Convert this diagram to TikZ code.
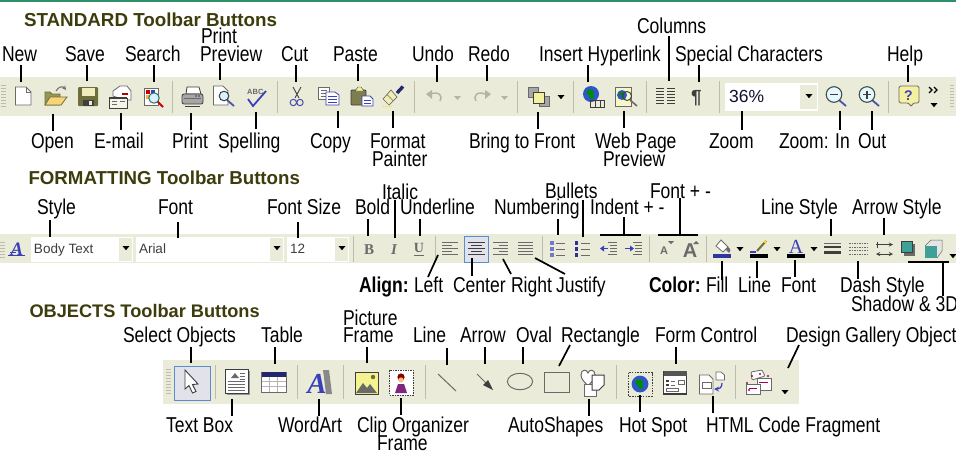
\documentclass[tikz,border=0pt]{standalone}
\usepackage{fontspec}
\setmainfont{Liberation Sans}
\newfontfamily\lblfont[FakeStretch=0.815]{Liberation Sans}
\newfontfamily\srf{Liberation Serif}
\definecolor{barc}{HTML}{EBEBDA}
\definecolor{topg}{HTML}{2E8F68}
\definecolor{ttlc}{HTML}{3C3C0C}
\definecolor{sepc}{HTML}{BDBDAE}
\definecolor{igray}{HTML}{6A6A6A}
\definecolor{idark}{HTML}{3E3E3E}
\definecolor{yel}{HTML}{F4F0A0}
\definecolor{ol}{HTML}{6E6E3C}
\definecolor{blu}{HTML}{3A40B8}
\definecolor{selb}{HTML}{5A8CD0}
\definecolor{self}{HTML}{E2E2EA}
\definecolor{tealc}{HTML}{3FA098}
\definecolor{dis}{HTML}{B4B4A8}
\definecolor{globe}{HTML}{2E58C8}
\tikzset{
  lbl/.style={anchor=base west,inner sep=0pt,outer sep=0pt,text=black,font=\lblfont\fontsize{21.5}{21.5}\selectfont},
  boldlbl/.style={lbl,font=\lblfont\bfseries\fontsize{21.5}{21.5}\selectfont},
  ttl/.style={anchor=base west,inner sep=0pt,outer sep=0pt,text=ttlc},
  combotxt/.style={anchor=base west,inner sep=0pt,outer sep=0pt,text=idark,font=\fontsize{13.5}{13.5}\selectfont},
  leader/.style={draw=black,line width=1.7pt},
  sepl/.style={draw=sepc,line width=1pt},
  ic/.style={draw=igray,line width=.8pt},
  icd/.style={draw=idark,line width=.8pt},
}
\newcommand\ldr[5]{\coordinate (#1a) at (#2,#3);\coordinate (#1b) at (#4,#5);\draw[leader] (#1a) -- (#1b);}
\newcommand\lbn[4]{\node[lbl] (#1) at (#2,#3) {#4};}
\newcommand\sepr[3]{\draw[sepl] (#1,#2) -- (#1,#3);}
\newcommand\drp[2]{\fill[black] ({#1-3.5},{#2-2}) -- ({#1+3.5},{#2-2}) -- (#1,{#2+2.2}) -- cycle;}
\newcommand\grp[3]{\foreach \gi in {0,...,#3}{\draw[draw=sepc,line width=1pt] (#1,{#2+3*\gi}) -- ({#1+4.5},{#2+3*\gi});}}
\newcommand\glb[3]{\fill[globe] (#1,#2) circle (#3);\fill[green!55!black] ({#1-.4*#3},{#2-.5*#3}) .. controls ({#1+.3*#3},{#2-.8*#3}) and ({#1+.6*#3},{#2-.1*#3}) .. ({#1+.1*#3},{#2+.1*#3}) .. controls ({#1-.2*#3},{#2+.2*#3}) and ({#1-.9*#3},{#2+.1*#3}) .. cycle;\fill[green!55!black] ({#1+.1*#3},{#2+.3*#3}) circle ({.3*#3});}
\begin{document}
\begin{tikzpicture}[x=1pt,y=-1pt]
\useasboundingbox (0,0) rectangle (956,451);
\fill[white] (0,0) rectangle (956,451);
\fill[topg] (0,0) rectangle (956,2);
% toolbars
\fill[barc] (0,77) rectangle (956,116);
\fill[barc] (0,234) rectangle (956,263);
\fill[barc] (163,360) rectangle (799,404);
% titles
\node[ttl,font=\bfseries\fontsize{18.8}{18.8}\selectfont] (tstd) at (24,26) {STANDARD Toolbar Buttons};
\node[ttl,font=\bfseries\fontsize{18.7}{18.7}\selectfont] (tfmt) at (28.5,184) {FORMATTING Toolbar Buttons};
\node[ttl,font=\bfseries\fontsize{18.2}{18.2}\selectfont] (tobj) at (29.5,317) {OBJECTS Toolbar Buttons};
% ---- standard labels
\lbn{lnew}{2}{61}{New}\lbn{lsave}{65}{61}{Save}\lbn{lsearch}{125}{61}{Search}
\lbn{lprinta}{201}{43}{Print}\lbn{lprev}{200}{61}{Preview}\lbn{lcut}{281}{61}{Cut}
\lbn{lpaste}{333}{61}{Paste}\lbn{lundo}{412}{61}{Undo}\lbn{lredo}{468}{61}{Redo}
\lbn{lhyper}{539}{61}{Insert Hyperlink}\lbn{lcols}{637}{33}{Columns}
\lbn{lspec}{675}{61}{Special Characters}\lbn{lhelp}{887}{61}{Help}
\lbn{lopen}{31}{148}{Open}\lbn{lemail}{94}{148}{E-mail}\lbn{lprint}{172}{148}{Print}
\lbn{lspell}{218}{148}{Spelling}\lbn{lcopy}{310}{148}{Copy}\lbn{lformat}{370}{148}{Format}
\lbn{lpaint}{372}{166}{Painter}\lbn{lbring}{469}{148}{Bring to Front}
\lbn{lweb}{595}{148}{Web Page}\lbn{lwebp}{603}{166}{Preview}\lbn{lzoom}{709}{148}{Zoom}
\lbn{lzin}{779}{148}{Zoom: In}\lbn{lzout}{858}{148}{Out}
% ---- standard leaders
\ldr{c1}{21.3}{65}{21.3}{82}\ldr{c2}{87}{65}{87}{81}\ldr{c3}{153.7}{65}{153.7}{82}
\ldr{c4}{220}{63}{220}{80}\ldr{c5}{296}{65}{296}{82}\ldr{c6}{357.7}{64}{357.7}{81}
\ldr{c7}{437}{65}{437}{82}\ldr{c8}{487}{65}{487}{81}\ldr{c9}{588}{65}{588}{82}
\ldr{c10}{669}{36}{669}{81}\ldr{c11}{698.7}{65}{698.7}{82}\ldr{c12}{908}{65}{908}{82}
\ldr{c13}{53}{114}{53}{131}\ldr{c14}{121}{113}{121}{130}\ldr{c15}{191}{113}{191}{130}
\ldr{c16}{255.7}{112}{255.7}{129}\ldr{c17}{337.7}{111}{337.7}{128}\ldr{c18}{393}{111}{393}{128}
\ldr{c19}{537.7}{112}{537.7}{129}\ldr{c20}{624}{111}{624}{128}\ldr{c21}{741.7}{110}{741.7}{130}
\ldr{c22}{840}{111}{840}{130}\ldr{c23}{872}{111}{872}{130}
% ---- standard icons
\grp{1}{85}{7}\grp{949.5}{85}{7}
\sepr{172}{81}{113}\sepr{277}{81}{113}\sepr{414}{81}{113}\sepr{517}{81}{113}
\sepr{573}{81}{113}\sepr{646}{81}{113}\sepr{719}{81}{113}\sepr{888}{81}{113}
% new
\draw[ic,fill=white] (15.5,87) -- (26,87) -- (31,92) -- (31,105) -- (15.5,105) -- cycle;
\draw[ic] (26,87) -- (26,92) -- (31,92);
% open
\draw[draw=ol,fill=ol!70!yel,line width=.8pt] (45,105) -- (45,92) -- (50,92) -- (52,94) -- (60,94) -- (60,105) -- cycle;
\draw[draw=ol,fill=yel!75!orange,line width=.8pt] (45,105) -- (50,97) -- (67,97) -- (61,105) -- cycle;
\draw[igray,line width=1pt,->,>=stealth] (56,91) .. controls (59,86) and (63,86) .. (66,90);
% save
\fill[ol,rounded corners=1pt] (78,87) rectangle (98,106);
\fill[yel!50!barc] (81.5,88) rectangle (94.5,96);
\fill[idark] (83,100) rectangle (94,106);\fill[barc] (89,101) rectangle (92,105);
% email
\draw[ic,fill=white] (113,96) -- (113,91) -- (120,86) -- (127,86) -- (131,91) -- (131,100) -- (125,100) -- cycle;
\draw[red!70!black,line width=1.2pt] (122,94) -- (128,94);
\draw[icd,fill=barc!60!white] (109,98) rectangle (127,108);
\fill[idark] (109,96.5) rectangle (127,98);
\draw[igray] (112,101) -- (117,101) (112,104) -- (117,104) (120,101) -- (125,101);
% search
\draw[ic,fill=white] (144,88) rectangle (158,105);
\fill[red!80!black] (146,90) rectangle (150,94);\fill[blu] (151,90) rectangle (155,94);\fill[yel!40!orange] (146,95) rectangle (150,99);
\draw[red!80!black,line width=1.8pt] (157,101) -- (163,107);
\draw[fill=cyan!15!white,draw=tealc!70!black,line width=1pt] (154,98) circle (5.2);
% print
\draw[icd,fill=white] (187,87) -- (199,87) -- (201,94) -- (186,94) -- cycle;
\draw[icd,fill=igray!60!white,rounded corners=2pt] (182,94) rectangle (203,104);
\draw[igray,line width=1pt] (184,98) -- (201,98);\draw[idark,line width=1.4pt] (185,106.5) -- (200,106.5);
\foreach \cx in {196,199}{\fill[idark] (\cx,96) circle (.8);}
% print preview
\draw[ic,fill=white] (213.5,86) -- (223,86) -- (228,91) -- (228,105) -- (213.5,105) -- cycle;
\draw[blu!70!gray,line width=1.8pt] (227,100) -- (234,106);
\draw[fill=cyan!15!white,draw=idark,line width=1pt] (224,96) circle (4.8);
% spelling
\node[anchor=base west,inner sep=0pt,text=igray,font=\bfseries\fontsize{7.5}{7.5}\selectfont] (abc) at (247,94) {ABC};
\draw[blu,line width=1.8pt] (248,99) -- (253,106) -- (266,91);
% cut
\draw[idark,line width=.9pt] (293,87) -- (299,98) (301,87) -- (295,98);
\draw[blu!75!gray,line width=1pt] (293.3,102.5) circle (3.2) (300,102.5) circle (3.2);
% copy
\draw[ic,fill=white] (318.5,87) rectangle (329,99);
\foreach \y in {90,93,96}{\draw[igray] (320.5,\y) -- (327,\y);}
\draw[draw=blu,fill=white,line width=.8pt] (326,92) -- (335,92) -- (339,95) -- (339,105) -- (326,105) -- cycle;
\foreach \y in {96,99,102}{\draw[blu] (328,\y) -- (337,\y);}
% paste
\draw[draw=idark,fill=ol!90!white,rounded corners=1pt,line width=.8pt] (351,90) rectangle (366,105);
\draw[idark,fill=yel] (355,91) -- (358,87) -- (361,87) -- (364,91) -- cycle;
\draw[draw=blu,fill=white,line width=.8pt] (362,96) -- (370,96) -- (373,99) -- (373,106) -- (362,106) -- cycle;
\draw[blu] (364,100) -- (371,100) (364,103) -- (371,103);
% painter
\draw[blu!60!black,line width=3.4pt] (397,93) -- (403,86.5);
\fill[yel!70!barc,draw=igray,line width=.7pt] (383,99) -- (391,90) -- (397,97) -- (389,105) -- cycle;
\draw[igray,line width=.7pt] (387,94.5) -- (393,100.5);
\draw[densely dotted,yellow!80!orange,line width=1pt] (383,106) -- (392,106);
% undo, redo
\draw[dis,line width=1.5pt] (429,94.5) .. controls (440,90) and (443,97) .. (440,101);
\fill[dis] (426,94) -- (432,90) -- (432,99) -- cycle;
\fill[dis] (454,96) -- (461,96) -- (457.5,100) -- cycle;
\draw[dis,line width=1.5pt] (487,94.5) .. controls (476,90) and (473,97) .. (476,101);
\fill[dis] (491,94) -- (485,90) -- (485,99) -- cycle;
\fill[dis] (501,96) -- (508,96) -- (504.5,100) -- cycle;
% bring to front
\draw[ic,fill=igray!60!white] (528,87) rectangle (538,97);
\draw[ic,fill=igray!60!white] (539,96) rectangle (549,106);
\draw[draw=idark,fill=yel,line width=.8pt] (533,92) rectangle (544,103);
\drp{561}{97}
% hyperlink
\glb{591}{94}{8}
\draw[idark,line width=1pt] (590,100) rectangle (595,107) (595,100) rectangle (600,107) (600,100) rectangle (604,107);
% web preview
\draw[ic,fill=yel!60!white] (615,87) rectangle (631,106);
\glb{622}{95}{5}
\draw[igray,line width=1.6pt] (630,100) -- (637,106);
\draw[draw=idark,line width=.9pt] (627,96) circle (4.5);
% columns
\foreach \y in {88.5,91.5,94.5,97.5,100.5,103.5}{\draw[idark,line width=1pt] (656,\y) -- (663.5,\y) (667,\y) -- (675,\y);}
% pilcrow
\node[anchor=base,inner sep=0pt,text=idark,font=\bfseries\fontsize{19}{19}\selectfont] (pil) at (696.5,103.5) {¶};
% zoom combo
\fill[white] (725,83) rectangle (818,111);
\fill[barc] (800,85) rectangle (817,109);
\drp{809}{96}
\node[anchor=base west,inner sep=0pt,text=blu!25!black,font=\fontsize{17.5}{17.5}\selectfont] (pct) at (729,102) {36\%};
% zoom out / in
\draw[blu!70!gray,line width=1.8pt] (839,100) -- (846,106);
\draw[draw=idark!80!tealc,fill=cyan!10!white,line width=1.1pt] (834,94.5) circle (7.8);
\draw[idark,line width=1.6pt] (830,94.5) -- (838,94.5);
\draw[blu!70!gray,line width=1.8pt] (872,100) -- (879,106);
\draw[draw=idark!80!tealc,fill=cyan!10!white,line width=1.1pt] (867,94.5) circle (7.8);
\draw[idark,line width=1.6pt] (863,94.5) -- (871,94.5) (867,90.5) -- (867,98.5);
% help
\draw[igray,fill=yel,line width=.9pt,rounded corners=1.5pt] (899,86) -- (919,86) -- (919,103) -- (913,103) -- (911,107) -- (909,103) -- (899,103) -- cycle;
\node[anchor=base,inner sep=0pt,text=blu,font=\bfseries\fontsize{14}{14}\selectfont] (hq) at (908.5,100) {?};
% chevrons
\draw[black,line width=1.2pt] (929,87) -- (932,90) -- (929,93) (934,87) -- (937,90) -- (934,93);
\drp{934}{105}
% ---- formatting labels
\lbn{lstyle}{37}{214}{Style}\lbn{lfont}{158}{214}{Font}\lbn{lfsize}{267}{214}{Font Size}
\lbn{lbold}{355}{214}{Bold}\lbn{lital}{382}{199}{Italic}\lbn{lund}{400}{214}{Underline}
\lbn{lnum}{494}{214}{Numbering}\lbn{lbul}{545}{198}{Bullets}\lbn{lind}{590}{214}{Indent + -}
\lbn{lfpm}{650}{198}{Font + -}\lbn{llst}{761}{214}{Line Style}\lbn{last}{852}{214}{Arrow Style}
\node[boldlbl] (lalign) at (359,292) {Align:};
\lbn{lleft}{414}{292}{Left}\lbn{lcent}{453}{292}{Center}\lbn{lright}{511}{292}{Right}\lbn{ljust}{556}{292}{Justify}
\node[boldlbl] (lcolor) at (649,292) {Color:};
\lbn{lfill}{706}{292}{Fill}\lbn{lline}{738}{292}{Line}\lbn{lfcol}{781}{292}{Font}
\lbn{ldash}{840}{292}{Dash Style}\lbn{lshad}{851}{311}{Shadow \& 3D}
% ---- formatting icons
\grp{0}{242}{5}
% style A
\node[anchor=base,inner sep=0pt,text=blu,font=\srf\bfseries\itshape\fontsize{19}{19}\selectfont] (sa) at (17,255) {A};
\draw[blu,line width=1pt] (8,255) -- (25,255);\draw[blu,line width=1pt] (10,252) -- (16,252);
% combos
\fill[white] (31,237) rectangle (133,262);\fill[barc] (119,238) rectangle (132,261);\drp{126}{248}
\fill[white] (136,237) rectangle (284,262);\fill[barc] (270,238) rectangle (283,261);\drp{277}{248}
\fill[white] (287,237) rectangle (349,262);\fill[barc] (335,238) rectangle (348,261);\drp{342}{248}
\node[combotxt] (cb1) at (34,253) {Body Text};
\node[combotxt] (cb2) at (139,253) {Arial};
\node[combotxt] (cb3) at (290,253) {12};
\sepr{353}{236}{262}\sepr{435}{236}{262}\sepr{542}{236}{262}\sepr{649}{236}{262}\sepr{706}{236}{262}
% B I U
\node[anchor=base,inner sep=0pt,text=igray,font=\srf\bfseries\fontsize{15}{15}\selectfont] (fb) at (369,254) {B};
\node[anchor=base,inner sep=0pt,text=igray,font=\srf\bfseries\itshape\fontsize{15}{15}\selectfont] (fi) at (394,254) {I};
\node[anchor=base,inner sep=0pt,text=igray,font=\srf\bfseries\fontsize{14}{14}\selectfont] (fu) at (419,252) {U};
\draw[igray,line width=1.1pt] (414,255.5) -- (424,255.5);
% align
\foreach \y/\xb in {242.5/458,245.5/452,248.5/458,251.5/452,254.5/458}{\draw[igray,line width=1pt] (442,\y) -- (\xb,\y);}
\draw[draw=selb,fill=self,line width=1pt] (464.5,236.5) rectangle (488.5,262);
\foreach \y/\xa/\xb in {242.5/468/485,245.5/471/482,248.5/468/485,251.5/471/482,254.5/468/485}{\draw[idark,line width=1pt] (\xa,\y) -- (\xb,\y);}
\foreach \y/\xa in {242.5/493,245.5/499,248.5/493,251.5/499,254.5/493}{\draw[igray,line width=1pt] (\xa,\y) -- (508,\y);}
\foreach \y in {242.5,245.5,248.5,251.5,254.5}{\draw[igray,line width=1pt] (518,\y) -- (533,\y);}
% numbering
\foreach \y in {243,249,255}{\fill[blu!70!white] (550,{\y-2}) rectangle (554,{\y+1.5});\draw[igray,line width=1pt] (556,\y) -- (565,\y);}
% bullets
\foreach \y in {243,249,255}{\fill[blu!80!black] (574.5,{\y-2}) rectangle (578,{\y+1.5});\draw[igray,line width=1pt] (581,\y) -- (590,\y);}
% indent
\foreach \xo in {0,25}{\foreach \y/\xa in {242.5/608,245.5/610,248.5/610,251.5/610,254.5/608}{\draw[igray,line width=1pt] ({\xa+\xo},\y) -- ({617+\xo},\y);}}
\draw[blu,line width=1.2pt] (601,248.5) -- (608,248.5);\fill[blu] (600,248.5) -- (604,245.5) -- (604,251.5) -- cycle;
\draw[blu,line width=1.2pt] (625,248.5) -- (632,248.5);\fill[blu] (634,248.5) -- (630,245.5) -- (630,251.5) -- cycle;
% font +-
\node[anchor=base,inner sep=0pt,text=igray,font=\bfseries\fontsize{11}{11}\selectfont] (fsm) at (664,254) {A};
\fill[igray] (668,241) -- (674,241) -- (671,244) -- cycle;
\node[anchor=base,inner sep=0pt,text=igray,font=\bfseries\fontsize{20}{20}\selectfont] (flg) at (690,257) {A};
\fill[igray] (693,244) -- (699,244) -- (696,241) -- cycle;
% fill colour
\draw[igray,fill=white,line width=.8pt] (716,246) -- (721,240) -- (728,247) -- (723,252) -- cycle;
\fill[igray] (728,247) .. controls (731,249) and (731,252) .. (729,253) -- (726,250) -- cycle;
\fill[blu!85!black] (713,254) rectangle (731,258);
\drp{740}{249}
% line colour
\draw[ol,line width=2pt] (757,251) -- (766,241);\fill[yellow!80!orange] (765,242) circle (1.5);
\draw[blu,line width=1.1pt] (750,252) -- (756,252);
\fill[black] (750,254) rectangle (768,258);
\drp{777}{249}
% font colour
\node[anchor=base,inner sep=0pt,text=blu,font=\srf\fontsize{20}{20}\selectfont] (fca) at (796,253.5) {A};
\fill[black] (787,254) rectangle (805,258);
\drp{814}{249}
% line style
\draw[igray,line width=.7pt] (824,243) -- (841,243);
\draw[idark,line width=1.8pt] (824,247) -- (841,247);
\draw[idark,line width=2.6pt] (824,252.5) -- (841,252.5);
% dash style
\foreach \y in {243.5,247,250.5,254}{\draw[igray,line width=.9pt,dash pattern=on 1.5pt off 1pt] (849,\y) -- (867,\y);}
% arrow style
\draw[idark,line width=.9pt,->,>=stealth] (876,244.5) -- (893,244.5);
\draw[idark,line width=.9pt,<->,>=stealth] (876,254) -- (893,254);
\draw[idark,line width=.9pt] (877,241.5) -- (877,247.5);
% shadow and 3d
\fill[igray] (904,244) rectangle (915,255.5);
\draw[fill=tealc,draw=idark,line width=.8pt] (901,241) rectangle (912,252);
\fill[white!80!gray] (925,246) -- (931,240) -- (942,240) -- (942,251) -- (937,258) -- (925,258) -- cycle;
\draw[ic,line width=.5pt] (925,246) -- (931,240) -- (942,240) -- (942,251) -- (937,258);
\fill[tealc] (925,246) rectangle (937,258);
\drp{953}{256}
% ---- formatting leaders
\ldr{d1}{50}{220}{50}{237}\ldr{d2}{178}{222}{178}{238}\ldr{d3}{298}{222}{298}{238}
\ldr{d4}{368}{219}{368}{236}\ldr{d5}{395}{200}{395}{238}\ldr{d6}{420}{219}{420}{236}
\ldr{d7}{438}{255}{428}{277}\ldr{d8}{472}{258}{472}{276}\ldr{d9}{503}{259}{511}{274}
\ldr{d10}{535}{258}{565}{274}\ldr{d11}{558}{219}{558}{235}\ldr{d12}{583}{200}{583}{237}
\ldr{d13}{624}{217}{624}{235}\ldr{d13x}{600}{235}{641}{235}
\ldr{d14}{680}{198}{680}{235}\ldr{d14x}{658}{235}{698}{235}
\ldr{d15}{831}{219}{831}{236}\ldr{d16}{884}{218}{884}{235}
\ldr{d17}{722}{261}{722}{280}\ldr{d18}{757}{261}{757}{278}\ldr{d19}{795}{260}{795}{277}
\ldr{d20}{858}{261}{858}{279}\ldr{d21}{908}{262}{949}{262}\ldr{d21v}{943}{262}{943}{296}
% ---- objects labels
\lbn{lsel}{123}{342}{Select Objects}\lbn{ltab}{261}{342}{Table}\lbn{lpic}{343}{325}{Picture}
\lbn{lfrm}{343}{342}{Frame}\lbn{lln}{413}{342}{Line}\lbn{larr}{460}{342}{Arrow}
\lbn{lov}{516}{342}{Oval}\lbn{lrec}{561}{342}{Rectangle}\lbn{lform}{655}{342}{Form Control}
\lbn{ldes}{786}{342}{Design Gallery Object}
\lbn{ltxt}{166}{432}{Text Box}\lbn{lwa}{278}{432}{WordArt}\lbn{lclip}{357}{432}{Clip Organizer}
\lbn{lclf}{377}{450}{Frame}\lbn{lauto}{508}{432}{AutoShapes}\lbn{lhot}{619}{432}{Hot Spot}
\lbn{lhtml}{706}{432}{HTML Code Fragment}
% ---- objects icons
\grp{166}{369}{8}
\draw[draw=selb,fill=self,line width=1pt] (174.5,366) rectangle (210,400);
\draw[idark,fill=white,line width=.9pt] (185,370) -- (185,389) -- (189,385.5) -- (192.5,393) -- (196,391.5) -- (192.5,384.5) -- (198,384) -- cycle;
\sepr{215}{365}{399}\sepr{297}{365}{399}\sepr{343}{365}{399}\sepr{425}{365}{399}\sepr{616}{365}{399}\sepr{735}{365}{399}
% text box
\fill[igray!70!white] (227,371) rectangle (250,395);
\draw[icd,fill=white] (225,369) rectangle (248,393);
\fill[igray] (231,378) -- (235,373) -- (239,378) -- cycle;
\foreach \y in {381,384,387,390}{\draw[igray] (228,\y) -- (245,\y);}
\foreach \y in {373,376,379}{\draw[igray] (240,\y) -- (245,\y);}
% table
\draw[draw=igray,fill=white,line width=1pt] (261.5,372.5) rectangle (286,392);
\fill[blu!60!black] (261.5,372) rectangle (286,376.5);
\foreach \y in {381,386.5}{\draw[igray!50!white] (261.5,\y) -- (286,\y);}
\foreach \x in {269.5,277.5}{\draw[igray!50!white] (\x,376.5) -- (\x,392);}
% wordart
\fill[igray!80!white] (323,370) -- (329,370) -- (332,394) -- (326,394) -- cycle;
\node[anchor=base,inner sep=0pt,text=blu,font=\srf\bfseries\itshape\fontsize{29}{29}\selectfont] (waA) at (317,393) {A};
% picture
\draw[draw=idark,fill=yel!90!yellow,line width=1pt] (355,372) rectangle (378,394);
\fill[igray] (356,393) -- (363,383) -- (367,388) -- (370,384) -- (377,393) -- cycle;
\fill[ol] (373,377) circle (2.2);
% clip org
\draw[idark,fill=white,dash pattern=on 1.5pt off 1pt,line width=1pt] (389.5,370) rectangle (413,395);
\fill[red!55!black] (401,377) circle (3.6);
\fill[orange!50!white] (401,380) circle (2.6);
\fill[violet!70!gray] (395,393) -- (398,384) -- (404,384) -- (407,393) -- cycle;
% line, arrow, oval, rectangle
\draw[igray,line width=1pt] (438,374) -- (456,391);
\draw[igray,line width=1pt] (477,374) -- (486,383);
\fill[idark] (493,390) -- (483,385) -- (488,380) -- cycle;
\draw[igray,line width=1pt] (520,381.5) ellipse (12.6 and 8.2);
\draw[igray,line width=1pt] (544.5,372) rectangle (569,392);
% autoshapes
\draw[igray,fill=white,line width=1pt] (581,375) .. controls (581,369) and (587,369) .. (588,373) .. controls (589,369) and (595,369) .. (595,375) .. controls (595,380) and (590,383) .. (588,386) .. controls (586,383) and (581,380) .. (581,375) -- cycle;
\draw[igray,fill=white,line width=1pt] (584,384) rectangle (596,396);
\draw[idark,fill=white,line width=1pt] (592,375) -- (604,375) -- (604,385) -- (599,390) -- (592,390) -- cycle;
% hot spot
\draw[idark,dash pattern=on 1.5pt off 1.2pt,line width=1pt] (628.5,372.5) rectangle (652,396);
\glb{640}{384}{8.4}
% form control
\draw[idark,fill=white,line width=1.1pt] (663.5,372) rectangle (686.5,394);
\fill[igray!80!black] (663.5,371) rectangle (686.5,376);
\foreach \y in {380,384}{\fill[idark] (666,\y) rectangle (669,{\y+2});\draw[igray] (671,{\y+1}) -- (675,{\y+1});}
\draw[igray,line width=.9pt] (666,388) rectangle (678,391.5);
\draw[igray,line width=.9pt] (678,380) rectangle (684,384);
% html
\draw[ic,fill=white] (699.5,375) -- (709,375) -- (713,379) -- (713,394) -- (699.5,394) -- cycle;
\draw[igray] (702,382) rectangle (711,388);
\draw[ic,fill=white] (716,372) -- (721,372) -- (724.5,375) -- (724.5,380) -- (716,380) -- cycle;
\draw[blu,line width=1.2pt,->,>=stealth] (722,383) .. controls (722,388) and (719,389) .. (714,389);
% design gallery
\draw[ic,fill=white!80!barc,rounded corners=1pt] (751,372) -- (762,370) -- (765,376) -- (752,380) -- cycle;
\draw[ic,fill=white] (757,378) rectangle (771,390);
\draw[ic,fill=white] (746,384) rectangle (760,394);
\foreach \p in {(747,383),(749,390),(752,376),(760,374),(768,376)}{\fill[violet!70!red] \p circle (1.2);}
\draw[violet!70!red,line width=.8pt] (759,382) -- (768,382) (749,388) -- (757,388);
\drp{785}{392}
% ---- objects leaders
\ldr{e1}{191}{347}{191}{363}\ldr{e2}{275}{347}{275}{364}\ldr{e3}{367}{347}{367}{363}
\ldr{e4}{447}{348}{447}{365}\ldr{e5}{485}{347}{485}{364}\ldr{e6}{523}{347}{523}{364}
\ldr{e7}{570}{345}{559}{366}\ldr{e8}{676}{347}{676}{364}\ldr{e9}{799}{345}{788}{368}
\ldr{e10}{232}{399}{232}{416}\ldr{e11}{319}{399}{319}{416}\ldr{e12}{401}{398}{401}{415}
\ldr{e13}{589}{399}{589}{416}\ldr{e14}{640}{395}{640}{412}\ldr{e15}{713}{396}{713}{413}
\end{tikzpicture}
\end{document}
